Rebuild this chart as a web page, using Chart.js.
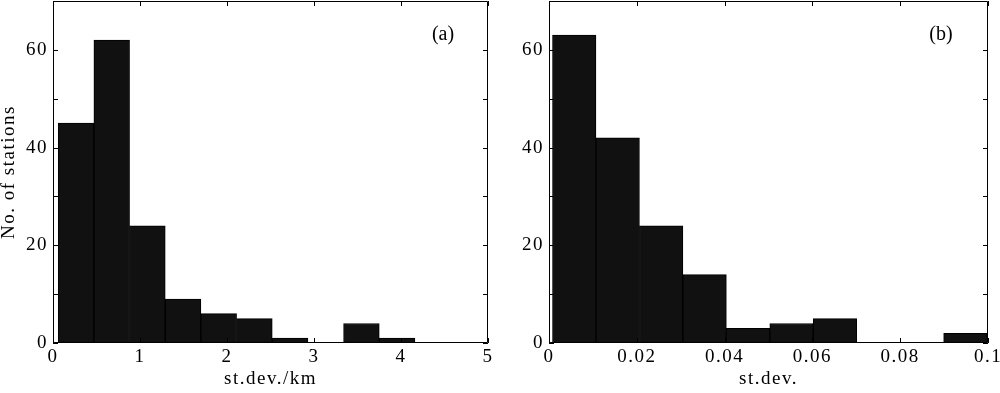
<!DOCTYPE html>
<html lang="en">
<head>
  <meta charset="UTF-8" />
  <title>Station st.dev. histograms</title>
  <script src="https://cdn.jsdelivr.net/npm/chart.js"></script>
  <style>
    body { margin: 0; background: #fff; }
    .panel { position: absolute; top: 0; width: 500px; height: 393px; }
    #pa { left: 0; }
    #pb { left: 500px; }
  </style>
</head>
<body>
  <div class="panel" id="pa"><canvas id="chartA" width="500" height="393"></canvas></div>
  <div class="panel" id="pb"><canvas id="chartB" width="500" height="393"></canvas></div>

  <script>
    // bin edges and counts
    const edgesA = [0.06, 0.47, 0.88, 1.29, 1.70, 2.11, 2.52, 2.93, 3.34, 3.75, 4.16];
    const countsA = [45, 62, 24, 9, 6, 5, 1, 0, 4, 1];
    const edgesB = [0.0008, 0.0107, 0.0206, 0.0305, 0.0404, 0.0503, 0.0602, 0.0701, 0.0800, 0.0899, 0.0998];
    const countsB = [63, 42, 24, 14, 3, 4, 5, 0, 0, 2];
    const yTicks = [0, 10, 20, 30, 40, 50, 60];

    const serif = 'Liberation Serif';

    function binData(edges, counts) {
      return counts.map((c, i) => ({ x: (edges[i] + edges[i + 1]) / 2, y: c }));
    }

    // frame + inward tick marks, plus the panel tag
    const frame = {
      id: 'frame',
      beforeUpdate(chart) { chart.ctx.letterSpacing = '1.5px'; },
      beforeDraw(chart) { chart.ctx.letterSpacing = '1.5px'; },
      afterDraw(chart, args, opts) {
        const { ctx, chartArea: a, scales } = chart;
        ctx.save();
        ctx.strokeStyle = '#000';
        ctx.lineWidth = 1;
        ctx.beginPath();
        ctx.rect(a.left + 0.5, a.top + 0.5, a.right - a.left - 1, a.bottom - a.top - 1);
        const len = 5;
        scales.x.ticks.forEach(t => {
          const px = Math.round(scales.x.getPixelForValue(t.value)) + 0.5;
          ctx.moveTo(px, a.bottom); ctx.lineTo(px, a.bottom - len);
          ctx.moveTo(px, a.top); ctx.lineTo(px, a.top + len);
        });
        scales.y.ticks.forEach(t => {
          const py = Math.round(scales.y.getPixelForValue(t.value)) + 0.5;
          ctx.moveTo(a.left, py); ctx.lineTo(a.left + len, py);
          ctx.moveTo(a.right, py); ctx.lineTo(a.right - len, py);
        });
        ctx.stroke();
        ctx.fillStyle = '#000';
        ctx.font = '20px "' + serif + '"';
        ctx.textAlign = 'center';
        ctx.textBaseline = 'middle';
        ctx.letterSpacing = '0px';
        ctx.fillText(opts.tag, opts.tagX, a.top + 34);
        ctx.restore();
      }
    };

    function makeChart(id, edges, counts, cfg) {
      return new Chart(document.getElementById(id), {
        type: 'bar',
        data: {
          datasets: [{
            data: binData(edges, counts),
            backgroundColor: '#111',
            borderColor: '#000',
            borderWidth: 1,
            barPercentage: 1,
            categoryPercentage: 1
          }]
        },
        options: {
          responsive: false,
          animation: false,
          devicePixelRatio: 1,
          layout: { padding: { top: 1, right: 12, left: 0, bottom: 0 } },
          plugins: {
            legend: { display: false },
            tooltip: { enabled: false },
            frame: { tag: cfg.tag, tagX: cfg.tagX }
          },
          scales: {
            x: {
              type: 'linear',
              min: 0,
              max: cfg.xMax,
              offset: false,
              grid: { display: false, drawTicks: false, tickLength: 0 },
              border: { display: false },
              ticks: {
                stepSize: cfg.xStep,
                autoSkip: false,
                maxRotation: 0,
                padding: 3,
                color: '#000',
                font: { family: serif, size: 19 },
                callback: v => v === 0 ? '0' : String(+v.toFixed(3))
              },
              title: {
                display: true,
                text: cfg.xTitle,
                color: '#000',
                font: { family: serif, size: 19, lineHeight: 1 },
                padding: { top: 0, bottom: 4 }
              },
              afterFit: s => { s.height = 50; s.paddingLeft = 0; s.paddingRight = 0; }
            },
            y: {
              min: 0,
              max: 70,
              grid: { display: false, drawTicks: false, tickLength: 0 },
              border: { display: false },
              afterBuildTicks: s => { s.ticks = yTicks.map(v => ({ value: v })); },
              ticks: {
                autoSkip: false,
                padding: 5,
                color: '#000',
                font: { family: serif, size: 19 },
                callback: v => (v % 20 === 0) ? String(v) : ''
              },
              title: {
                display: !!cfg.yTitle,
                text: cfg.yTitle,
                color: '#000',
                font: { family: serif, size: 19, lineHeight: 1 },
                padding: { top: 0, bottom: 0 }
              },
              afterFit: s => { s.width = cfg.yWidth; s.paddingTop = 0; s.paddingBottom = 0; }
            }
          }
        },
        plugins: [frame]
      });
    }

    makeChart('chartA', edgesA, countsA, {
      xMax: 5, xStep: 1, xTitle: 'st.dev./km', yTitle: 'No. of stations',
      yWidth: 53, tag: '(a)', tagX: 443
    });
    makeChart('chartB', edgesB, countsB, {
      xMax: 0.1, xStep: 0.02, xTitle: 'st.dev.', yTitle: '',
      yWidth: 49, tag: '(b)', tagX: 441
    });
  </script>
</body>
</html>
